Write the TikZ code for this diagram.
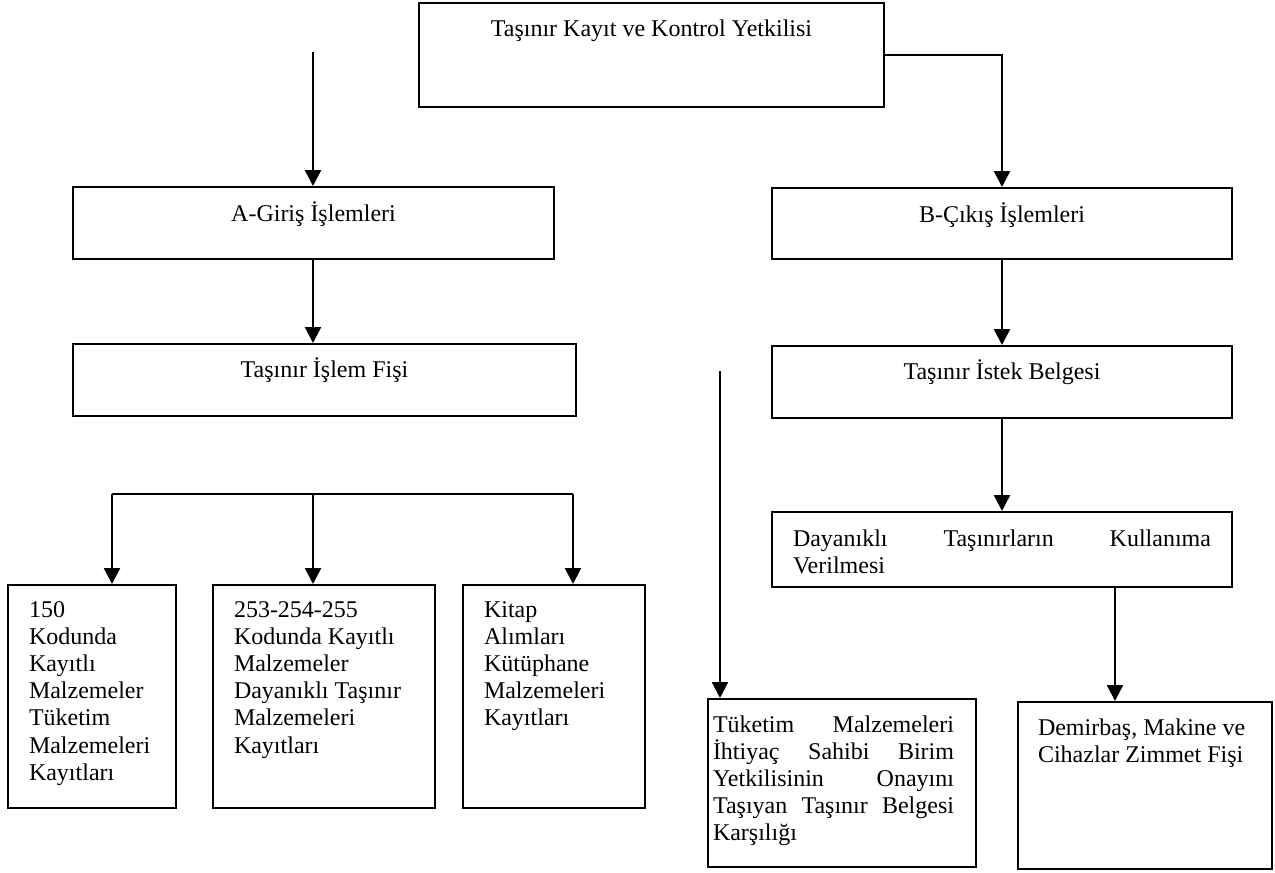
\documentclass[tikz,border=0pt]{standalone}
\usepackage{fontspec}
\setmainfont{Liberation Serif}
\usetikzlibrary{arrows.meta}
\tikzset{kutu/.style={shape=rectangle,
    draw, line width=1pt, inner sep=0pt, anchor=north west,
    font=\fontsize{12pt}{13.6pt}\selectfont}}
\tikzset{ok/.style={every edge/.style={draw, line width=1.2pt, -{Triangle[width=8pt,length=8pt]}}}}
% width, height, first baseline, side margin, text
\newcommand{\kutuyazi}[5]{\parbox[c][#2][t]{#1}{\leftskip=#4\rightskip=#4\relax\rule{0pt}{#3}#5}}

\begin{document}
\begin{tikzpicture}[x=0.5pt, y=-0.5pt]
    \useasboundingbox (0,0) rectangle (1275,873);

    \node[kutu] (ust) at (418,2) {\kutuyazi{232.5pt}{52pt}{16.5pt}{0pt}{\centering Taşınır Kayıt ve Kontrol Yetkilisi}};

    \node[kutu] (giris) at (72,186) {\kutuyazi{240.5pt}{36pt}{17pt}{0pt}{\centering A-Giriş İşlemleri}};
    \node[kutu] (islemfisi) at (72,343) {\kutuyazi{251.5pt}{36pt}{16.5pt}{0pt}{\centering Taşınır İşlem Fişi}};

    \node[kutu] (cikis) at (771,187) {\kutuyazi{230pt}{35.5pt}{17pt}{0pt}{\centering B-Çıkış İşlemleri}};
    \node[kutu] (istek) at (771,345) {\kutuyazi{230pt}{36pt}{16.5pt}{0pt}{\centering Taşınır İstek Belgesi}};
    \node[kutu] (dayanikli) at (771,511) {\kutuyazi{230pt}{37.5pt}{17pt}{10.5pt}{Dayanıklı \hfill Taşınırların \hfill Kullanıma\\ Verilmesi}};

    \node[kutu] (kod150) at (7,584) {\kutuyazi{84pt}{111.5pt}{16pt}{10.5pt}{150\\ Kodunda\\ Kayıtlı\\ Malzemeler\\ Tüketim\\ Malzemeleri\\ Kayıtları}};
    \node[kutu] (kod253) at (212,584) {\kutuyazi{111pt}{111.5pt}{16pt}{10.5pt}{253-254-255\\ Kodunda Kayıtlı\\ Malzemeler\\ Dayanıklı Taşınır\\ Malzemeleri\\ Kayıtları}};
    \node[kutu] (kitap) at (462,584) {\kutuyazi{91pt}{111.5pt}{16pt}{10.5pt}{Kitap\\ Alımları\\ Kütüphane\\ Malzemeleri\\ Kayıtları}};

    \node[kutu] (tuketim) at (707,698) {\kutuyazi{134pt}{84pt}{16.5pt}{2.5pt}{\rightskip=11pt\relax Tüketim \hfill Malzemeleri\\ İhtiyaç \hfill Sahibi \hfill Birim\\ Yetkilisinin \hfill Onayını\\ Taşıyan \hfill Taşınır \hfill Belgesi\\ Karşılığı}};
    \node[kutu] (demirbas) at (1017,701) {\kutuyazi{127pt}{83.5pt}{16.5pt}{10pt}{\rightskip=0pt\relax Demirbaş, Makine ve\\ Cihazlar Zimmet Fişi}};

    \coordinate (solbas) at (313,52);
    \coordinate (sagbas) at (720,371);
    \coordinate (d1) at (112,494);
    \coordinate (d2) at (313,494);
    \coordinate (d3) at (573,494);
    \coordinate (dm) at (1115,0);

    \draw[line width=1.2pt] (d1) -- (d3);

    \path[ok]
    (solbas) edge (solbas |- giris.north)
    (giris.south -| solbas) edge (islemfisi.north -| solbas)
    (ust.east) edge[to path={-| (\tikztotarget)}] (cikis.north)
    (cikis) edge (istek)
    (istek) edge (dayanikli)
    (d1) edge (d1 |- kod150.north)
    (d2) edge (d2 |- kod253.north)
    (d3) edge (d3 |- kitap.north)
    (sagbas) edge (sagbas |- tuketim.north)
    (dayanikli.south -| dm) edge (demirbas.north -| dm)
    ;
\end{tikzpicture}
\end{document}
